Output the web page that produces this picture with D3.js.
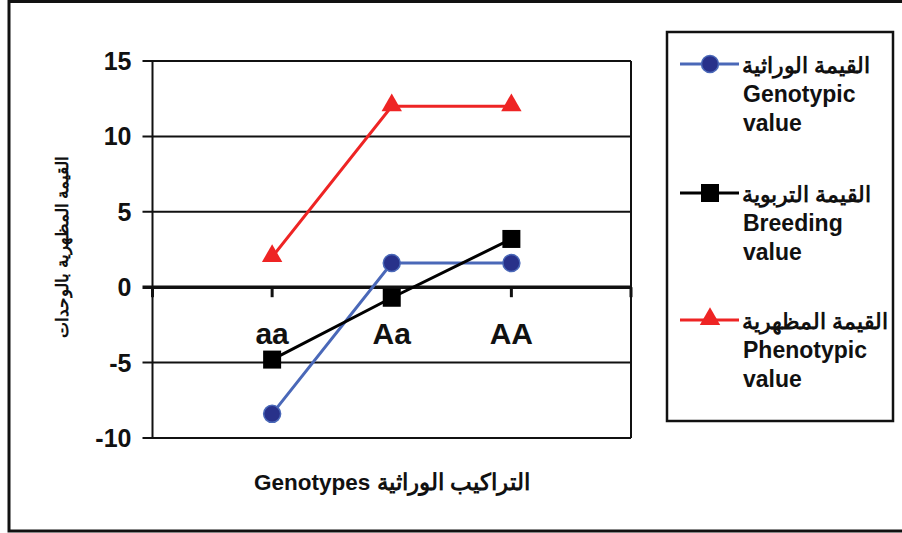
<!DOCTYPE html>
<html>
<head>
<meta charset="utf-8">
<script src="https://cdn.jsdelivr.net/npm/d3@7"></script>
<style>
  html, body { margin: 0; padding: 0; background: #fff; }
  svg { display: block; font-family: "Liberation Sans", Arial, sans-serif; }
</style>
</head>
<body>
<svg id="chart" width="902" height="533"></svg>
<script>
const categories = ["aa", "Aa", "AA"];
const genotypic = [-8.4, 1.6, 1.6];
const breeding = [-4.8, -0.7, 3.2];
const phenotypic = [2, 12, 12];
const yTicks = [-10, -5, 0, 5, 10, 15];
const seriesNames = [
  ["القيمة الوراثية", "Genotypic", "value"],
  ["القيمة التربوية", "Breeding", "value"],
  ["القيمة المظهرية", "Phenotypic", "value"]
];
const yTitle = "القيمة المظهرية بالوحدات";
const xTitle = "Genotypes التراكيب الوراثية";

const svg = d3.select("#chart");

// outer frame
svg.append("rect").attr("x", 9).attr("y", 1.5).attr("width", 1000).attr("height", 529.5)
  .attr("fill", "none").attr("stroke", "#111").attr("stroke-width", 3);

const L = 152.5, R = 631, T = 61, B = 438;
const y = d3.scaleLinear().domain([-10, 15]).range([B, T]);
const x = d3.scalePoint().domain(categories).range([L, R]).padding(1);

const g = svg.append("g");

// gridlines with left tick marks
g.selectAll("line.grid").data(yTicks).join("line")
  .attr("x1", L - 10).attr("x2", R)
  .attr("y1", d => y(d)).attr("y2", d => y(d))
  .attr("stroke", "#111").attr("stroke-width", d => d === 0 ? 3.5 : 2);

// plot border left/right
g.append("line").attr("x1", L).attr("x2", L).attr("y1", T).attr("y2", B).attr("stroke", "#111").attr("stroke-width", 2);
g.append("line").attr("x1", R).attr("x2", R).attr("y1", T).attr("y2", B).attr("stroke", "#111").attr("stroke-width", 2);

// y tick labels
g.selectAll("text.ytick").data(yTicks).join("text")
  .attr("x", 131.5).attr("y", d => y(d)).attr("dy", "0.36em")
  .attr("text-anchor", "end").attr("font-size", 25).attr("font-weight", "bold")
  .attr("fill", "#111").text(d => d);

// category tick marks on zero line
const catTickXs = [L].concat(categories.map(c => x(c))).concat([R]);
g.selectAll("line.xtick").data(catTickXs).join("line")
  .attr("x1", d => d).attr("x2", d => d)
  .attr("y1", y(0)).attr("y2", y(0) + 10)
  .attr("stroke", "#111").attr("stroke-width", 3);

// category labels
g.selectAll("text.cat").data(categories).join("text")
  .attr("x", d => x(d)).attr("y", 344)
  .attr("text-anchor", "middle").attr("font-size", 30).attr("font-weight", "bold")
  .attr("fill", "#111").text(d => d);

const line = d3.line().x((d, i) => x(categories[i])).y(d => y(d));

function drawSeries(vals, color, width) {
  g.append("path").datum(vals).attr("d", line)
    .attr("fill", "none").attr("stroke", color).attr("stroke-width", width);
}
drawSeries(phenotypic, "#ee2424", 3);
drawSeries(genotypic, "#4a68b8", 3);
drawSeries(breeding, "#000", 3);

const tri = d3.symbol().type(d3.symbolTriangle).size(180);
function triangle(sel, cx, cy) {
  sel.append("path").attr("d", tri).attr("transform", `translate(${cx},${cy - 1})`)
    .attr("fill", "#ee2424");
}
function circle(sel, cx, cy) {
  sel.append("circle").attr("cx", cx).attr("cy", cy).attr("r", 8.5)
    .attr("fill", "#28318a").attr("stroke", "#4a68b8").attr("stroke-width", 1.5);
}
function square(sel, cx, cy) {
  sel.append("rect").attr("x", cx - 9).attr("y", cy - 9).attr("width", 18).attr("height", 18)
    .attr("fill", "#000");
}
phenotypic.forEach((v, i) => triangle(g, x(categories[i]), y(v)));
genotypic.forEach((v, i) => circle(g, x(categories[i]), y(v)));
breeding.forEach((v, i) => square(g, x(categories[i]), y(v)));

// axis titles
svg.append("text").attr("transform", "translate(68,247) rotate(-90)")
  .attr("text-anchor", "middle").attr("font-size", 17).attr("font-weight", "bold")
  .attr("fill", "#111").text(yTitle);
svg.append("text").attr("x", 392).attr("y", 490)
  .attr("text-anchor", "middle").attr("font-size", 22.5).attr("font-weight", "bold")
  .attr("fill", "#111").text(xTitle);

// legend
svg.append("rect").attr("x", 667).attr("y", 32).attr("width", 226).attr("height", 389)
  .attr("fill", "#fff").attr("stroke", "#111").attr("stroke-width", 2.5);

const legendY = [64, 193, 320];
const colors = ["#4a68b8", "#000", "#ee2424"];
const markers = [circle, square, triangle];
seriesNames.forEach((names, i) => {
  const ly = legendY[i];
  svg.append("line").attr("x1", 680).attr("x2", 739).attr("y1", ly).attr("y2", ly)
    .attr("stroke", colors[i]).attr("stroke-width", 3);
  markers[i](svg, 710, ly);
  svg.append("text").attr("x", 742).attr("y", ly + 9).attr("text-anchor", "start")
    .attr("direction", "ltr")
    .attr("font-size", 22).attr("font-weight", "bold").attr("fill", "#111")
    .text(names[0]);
  svg.append("text").attr("x", 743).attr("y", ly + 38)
    .attr("font-size", 23).attr("font-weight", "bold").attr("fill", "#111").text(names[1]);
  svg.append("text").attr("x", 743).attr("y", ly + 67)
    .attr("font-size", 23).attr("font-weight", "bold").attr("fill", "#111").text(names[2]);
});
</script>
</body>
</html>
